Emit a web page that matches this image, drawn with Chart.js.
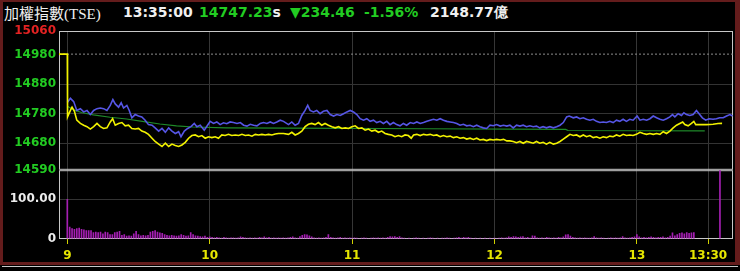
<!DOCTYPE html>
<html>
<head>
<meta charset="utf-8">
<script src="https://cdn.jsdelivr.net/npm/chart.js@4.4.1/dist/chart.umd.min.js"></script>
<style>
    html, body { margin: 0; padding: 0; background: #000; }
    #wrap { position: relative; width: 740px; height: 271px; overflow: hidden; background: #000; }
    #frame { position: absolute; left: 0; top: 0; width: 740px; height: 265px; box-sizing: border-box;
             border: 3px solid #641c1c; border-top-width: 2px; border-right-width: 5px; }
    #below { position: absolute; left: 2px; top: 266px; width: 736px; border-top: 1px solid #c8c8c8; }
    .hd { position: absolute; top: 3px; font: bold 14px "DejaVu Sans"; line-height: 18px; white-space: pre; }
    .title { font: 15px "Liberation Serif", "Noto Sans CJK TC"; top: 2px; }
    .w { color: #f0f0f0; }
    .g { color: #22cc22; }
    canvas { position: absolute; left: 0; }
</style>
</head>
<body>
<div id="wrap">
    <div id="frame"></div>
    <div id="below"></div>
    <div class="hd title w" style="left:4px">加權指數(TSE)</div>
    <div class="hd w" style="left:123px">13:35:00</div>
    <div class="hd" style="left:199px"><span class="g">14747.23</span><span class="w">s</span></div>
    <div class="hd g" style="left:290px">▼234.46</div>
    <div class="hd g" style="left:364px">-1.56%</div>
    <div class="hd w" style="left:430px">2148.77億</div>
    <canvas id="priceChart" width="740" height="180" style="top:0"></canvas>
    <canvas id="volChart" width="740" height="110" style="top:160px"></canvas>
</div>
<script>
// minutes after 9:00
var timeTicks = [0, 60, 120, 180, 240, 270];
var timeLabels = ['9', '10', '11', '12', '13', '13:30'];
var priceTicks = [14590, 14680, 14780, 14880, 14980, 15060];
var volumeTicks = [0, 100];
var prevClose = 14981.69;

// [minute, value]
var indexLine = [[-3.5,14981.69],[0,14981.69],[0.1,14769],[1.3,14791],[2,14802],[3,14788],[4,14758],[5.5,14747],[6.9,14741],[8.3,14736],[9.7,14728],[11.1,14736],[12.5,14747],[13.9,14736],[15.3,14730],[16.7,14732],[18.1,14752],[19.1,14763],[20.2,14741],[21.6,14747],[23,14750],[24.4,14739],[25.8,14741],[27.2,14730],[28.6,14728],[30,14730],[31.4,14721],[32.8,14717],[34.2,14710],[35.7,14697],[37,14686],[38.5,14677],[39.9,14669],[41.3,14680],[42.7,14669],[44.1,14677],[45.5,14672],[46.9,14669],[48.3,14674],[49.7,14683],[51.1,14697],[52.5,14706],[53.9,14708],[55.3,14702],[56.7,14706],[58.1,14697],[59.5,14702],[60.9,14699],[62.3,14702],[63.7,14697],[65.1,14708],[66.5,14706],[67.9,14710],[69.3,14706],[70.8,14708],[72.2,14706],[73.6,14710],[75,14706],[76.4,14708],[77.8,14704],[79.2,14710],[80.6,14708],[82,14710],[83.4,14708],[84.8,14710],[86.2,14708],[87.6,14711],[89,14713],[91.1,14713],
    [93.2,14710],[94.6,14717],[96,14708],[97.4,14713],[98.8,14721],[100.2,14736],[101.6,14744],[103,14747],[104.4,14743],[105.8,14750],[107.2,14741],[108.6,14747],[110,14741],[111.5,14736],[112.9,14732],[114.3,14736],[115.7,14730],[117.1,14732],[118.5,14730],[119.9,14736],[121.3,14739],[122.7,14730],[124.1,14732],[125.5,14724],[126.9,14728],[128.3,14721],[129.7,14724],[131.1,14717],[132.5,14721],[133.9,14713],[135.3,14710],[136.7,14708],[138.1,14702],[139.5,14706],[140.9,14702],[142.3,14708],[143.7,14706],[144.9,14697],[145.9,14708],[147.3,14710],[148.7,14706],[150.1,14710],[151.5,14708],[152.9,14710],[154.3,14706],[155.7,14708],[157.1,14702],[158.5,14706],[159.9,14702],[161.3,14704],[162.7,14699],[164.1,14702],[165.5,14697],[166.9,14699],[168.3,14694],[169.7,14697],[171.1,14693],[172.5,14697],[173.9,14691],[175.3,14693],[176.7,14689],[178.1,14693],[179.5,14691],[180.9,14693],[182.4,14691],[183.8,14693],[185.2,14688],
    [186.5,14688],[187.9,14686],[189.3,14682],[190.7,14686],[192.1,14680],[193.5,14686],[194.9,14683],[196.3,14680],[197.7,14686],[199.1,14680],[200.5,14683],[201.9,14677],[203.3,14683],[204.8,14677],[206.2,14680],[207.6,14686],[209,14694],[210.4,14702],[211.8,14710],[213.2,14706],[214.6,14708],[216,14702],[217.4,14708],[218.8,14702],[220.2,14706],[221.6,14699],[223,14702],[224.4,14697],[225.8,14702],[227.2,14699],[228.6,14704],[230,14702],[231.4,14708],[232.8,14704],[234.2,14710],[235.6,14706],[237,14708],[238.4,14706],[239.8,14710],[241.3,14717],[242.7,14713],[244.1,14710],[245.5,14713],[246.9,14710],[248.3,14713],[249.7,14710],[251.1,14719],[252.5,14713],[253.9,14721],[255.3,14732],[256.7,14741],[258.1,14747],[259.3,14752],[260.2,14743],[261.6,14739],[263,14747],[264,14754],[264.8,14743],[266.5,14743],[269.3,14743],[272.1,14744],[274.2,14747],[275.9,14747.23]];

var blueLine = [[0,14818],[1.3,14832],[2.7,14821],[4,14791],[5.5,14797],[6.9,14786],[8.3,14791],[9.7,14777],[11.1,14791],[12.5,14797],[13.9,14799],[15.3,14797],[16.7,14791],[18.1,14808],[19.2,14828],[20.2,14813],[21.6,14802],[22.7,14817],[23.7,14799],[25.1,14808],[26.1,14791],[27.2,14766],[28.6,14777],[30,14772],[31.4,14769],[32.8,14758],[34.2,14743],[35.7,14741],[37,14732],[38.5,14721],[39.9,14730],[41.3,14717],[42.7,14732],[44.1,14721],[45.5,14713],[46.9,14719],[47.9,14702],[49.3,14721],[50.7,14730],[52.1,14736],[53.5,14747],[54.6,14736],[56,14741],[57.7,14724],[59.1,14741],[60.2,14754],[61.6,14747],[63,14752],[64.4,14743],[65.8,14749],[67.2,14746],[68.6,14752],[70,14750],[71.5,14747],[72.9,14750],[74.3,14741],[75.7,14738],[77.1,14744],[78.5,14741],[79.9,14739],[81.3,14747],[82.7,14750],[84.1,14747],[85.5,14752],[86.9,14747],[88.3,14752],[89.7,14758],[91.1,14754],
    [93.2,14743],[94.6,14752],[96,14741],[97.4,14747],[98.8,14774],[100.2,14791],[101.3,14808],[102.3,14791],[103.7,14786],[105.1,14791],[106.5,14780],[107.9,14788],[109.4,14791],[110.8,14777],[112.2,14772],[113.6,14777],[115,14774],[116.4,14780],[117.8,14786],[119.2,14791],[120.6,14786],[122,14777],[123.4,14763],[124.8,14758],[126.2,14763],[127.6,14754],[129,14758],[130.4,14750],[131.8,14754],[133.2,14747],[134.6,14754],[136,14743],[137.4,14750],[138.8,14743],[140.2,14739],[141.6,14747],[143,14741],[144.5,14750],[145.9,14747],[147.3,14752],[148.7,14747],[150.1,14750],[151.5,14754],[152.9,14758],[154.3,14761],[155.7,14758],[157.1,14763],[158.5,14758],[159.9,14754],[161.3,14752],[162.7,14750],[164.1,14747],[165.5,14741],[166.9,14744],[168.3,14739],[169.7,14741],[171.1,14736],[172.5,14741],[173.9,14736],[175.3,14732],[176.7,14730],[178.1,14741],[179.5,14739],[180.9,14743],[182.4,14738],[183.8,14741],[185.2,14738],
    [186.5,14741],[187.9,14732],[189.3,14741],[190.7,14738],[192.1,14741],[193.5,14736],[194.9,14739],[196.3,14736],[197.7,14738],[199.1,14732],[200.5,14736],[201.9,14732],[203.3,14736],[204.8,14732],[206.2,14736],[207.6,14741],[209,14750],[210.4,14769],[211.5,14772],[213.2,14766],[214.6,14769],[216,14763],[217.4,14766],[218.8,14761],[220.2,14758],[221.6,14761],[223,14754],[224.4,14750],[225.8,14752],[227.2,14750],[228.6,14754],[230,14750],[231.4,14758],[232.8,14754],[234.2,14761],[235.6,14754],[237,14761],[238.4,14758],[240.1,14772],[241.3,14758],[242.7,14761],[244.1,14758],[245.5,14763],[246.9,14772],[248.3,14766],[249.7,14761],[251.1,14758],[252.5,14763],[253.9,14769],[255,14777],[256,14769],[257.4,14780],[258.8,14774],[259.8,14783],[260.9,14777],[262.3,14774],[263.7,14777],[265.1,14791],[266.2,14780],[267.6,14766],[269,14758],[270.4,14763],[272.1,14761],[273.5,14763],[274.9,14766],[276.4,14766],[277.8,14772],[279.2,14777],[280.3,14772]];

var avgLine = [[0,14805],[3,14792],[6,14784],[11,14776],[18,14768],[25,14762],[33,14752],[39,14745],[46,14739],[53,14735],[67,14732],[94,14731],[150,14729],[210,14727],[211,14723],[268.6,14722]];

// volume per minute from 9:00, then the closing bar
var volume = [
    100, 31, 27, 25, 27, 28, 25, 24, 22, 22,
    22, 17, 18, 17, 18, 14, 18, 17, 12, 12,
    17, 18, 20, 10, 12, 8, 9, 8, 14, 20,
    12, 9, 10, 9, 10, 18, 20, 22, 18, 16,
    15, 12, 10, 9, 10, 9, 8, 9, 12, 10,
    8, 9, 17, 12, 9, 8, 7, 6, 8, 5,
    6, 5, 4, 5, 4, 3, 5, 4, 3, 4,
    4, 3, 4, 6, 5, 4, 3, 4, 3, 4,
    3, 5, 4, 6, 4, 5, 3, 4, 3, 4,
    3, 4, 3, 4, 5, 6, 4, 3, 7, 10,
    12, 11, 9, 6, 4, 3, 4, 3, 4, 5,
    12, 5, 4, 3, 4, 5, 3, 4, 3, 4,
    3, 4, 3, 2, 3, 4, 3, 2, 3, 4,
    3, 4, 3, 4, 3, 5, 7, 6, 7, 5,
    7, 4, 3, 2, 3, 2, 3, 4, 3, 2,
    3, 2, 3, 4, 3, 2, 3, 2, 3, 3,
    4, 3, 2, 3, 4, 5, 3, 5, 4, 5,
    3, 2, 3, 2, 3, 2, 3, 2, 3, 2,
    3, 2, 3, 4, 3, 4, 6, 5, 7, 6,
    5, 6, 7, 4, 5, 3, 9, 8, 4, 3,
    4, 3, 5, 4, 3, 4, 3, 5, 4, 6,
    11, 12, 8, 5, 4, 3, 4, 3, 4, 3,
    3, 4, 7, 4, 3, 4, 3, 2, 3, 4,
    3, 4, 3, 4, 7, 4, 3, 4, 5, 6,
    12, 6, 4, 5, 4, 5, 6, 5, 4, 5,
    5, 6, 4, 5, 8, 16, 9, 12, 15, 16,
    14, 17, 15, 16, 17
];
var closeVolume = [275, 175];

var xMin = -3.5, xMax = 280.5;
var toXY = function (arr) { return arr.map(function (p) { return { x: p[0], y: p[1] }; }); };
var labelFont = { family: 'DejaVu Sans', size: 12, weight: 'bold' };

// box round the plot area
var framePlugin = {
    id: 'frame',
    beforeDatasetsDraw: function (chart) {
        var a = chart.chartArea, ctx = chart.ctx;
        ctx.save();
        ctx.strokeStyle = '#c8c8c8';
        ctx.lineWidth = 1;
        ctx.strokeRect(a.left + 0.5, a.top + 0.5, a.right - a.left - 1, a.bottom - a.top - 1);
        ctx.restore();
    }
};

function timeAxis(showLabels) {
    return {
        type: 'linear', min: xMin, max: xMax, offset: false,
        afterBuildTicks: function (s) { s.ticks = timeTicks.map(function (v) { return { value: v }; }); },
        ticks: {
            display: showLabels, color: '#e6e600', font: labelFont, padding: 5, maxRotation: 0,
            callback: function (v, i) { return timeLabels[i]; }
        },
        grid: { offset: false, color: '#363636', drawTicks: showLabels, tickColor: '#d0d000', tickLength: 5 },
        border: { display: false },
        afterFit: function (s) { s.height = showLabels ? 31 : 0; }
    };
}

new Chart(document.getElementById('priceChart'), {
    type: 'line',
    data: {
        datasets: [
            { data: toXY(indexLine), borderColor: '#f2f200', borderWidth: 1.6 },
            { data: toXY(blueLine), borderColor: '#5656e6', borderWidth: 1.6 },
            { data: toXY(avgLine), borderColor: '#1f8a2a', borderWidth: 1.2 },
            { data: [{ x: xMin, y: prevClose }, { x: xMax, y: prevClose }], borderColor: '#8c8c8c', borderWidth: 1, borderDash: [2, 2] }
        ]
    },
    options: {
        responsive: false, animation: false,
        elements: { point: { radius: 0 }, line: { tension: 0 } },
        plugins: { legend: { display: false }, tooltip: { enabled: false } },
        layout: { padding: { top: 31, bottom: 10, left: 0, right: 7 } },
        scales: {
            x: timeAxis(false),
            y: {
                min: 14590, max: 15060,
                afterBuildTicks: function (s) { s.ticks = priceTicks.map(function (v) { return { value: v }; }); },
                afterFit: function (s) { s.width = 59; },
                ticks: {
                    font: labelFont, padding: 3,
                    color: function (c) { return c.tick.value === 15060 ? '#e42222' : '#22cc22'; },
                    callback: function (v) { return String(v); }
                },
                grid: {
                    drawTicks: false,
                    color: function (c) { return [14680, 14780, 14880].indexOf(c.tick.value) >= 0 ? '#333333' : 'rgba(0,0,0,0)'; }
                },
                border: { display: false }
            }
        }
    },
    plugins: [framePlugin]
});

var volData = volume.map(function (v, i) { return { x: i, y: v }; });
volData.push({ x: closeVolume[0], y: closeVolume[1] });

new Chart(document.getElementById('volChart'), {
    type: 'bar',
    data: {
        datasets: [{ data: volData, backgroundColor: '#a41fb2', barPercentage: 0.7, categoryPercentage: 1 }]
    },
    options: {
        responsive: false, animation: false,
        plugins: { legend: { display: false }, tooltip: { enabled: false } },
        layout: { padding: { top: 10, bottom: 0, left: 0, right: 7 } },
        scales: {
            x: timeAxis(true),
            y: {
                min: 0, max: 172.5,
                afterBuildTicks: function (s) { s.ticks = volumeTicks.map(function (v) { return { value: v }; }); },
                afterFit: function (s) { s.width = 59; },
                ticks: {
                    font: labelFont, padding: 3, color: '#ececec',
                    callback: function (v) { return v === 0 ? '0' : v.toFixed(2); }
                },
                grid: {
                    drawTicks: false,
                    color: function (c) { return c.tick.value === 100 ? '#333333' : 'rgba(0,0,0,0)'; }
                },
                border: { display: false }
            }
        }
    },
    plugins: [framePlugin]
});
</script>
</body>
</html>
